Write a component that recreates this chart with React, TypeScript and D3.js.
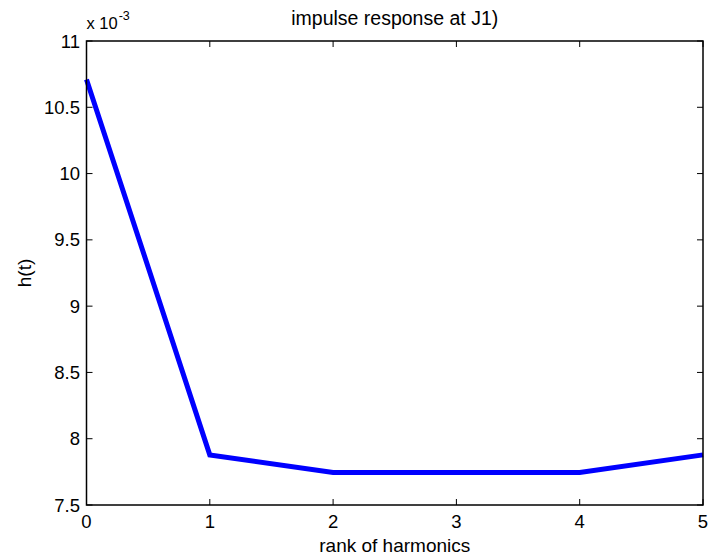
import React from "react";
import * as d3 from "d3";

// harmonics rank and impulse response h(t), in units of 1e-3
const ranks = [0, 1, 2, 3, 4, 5];
const hValues = [10.71, 7.878, 7.745, 7.745, 7.745, 7.878];
const xTicks = [0, 1, 2, 3, 4, 5];
const yTicks = [7.5, 8, 8.5, 9, 9.5, 10, 10.5, 11];

const W = 708;
const H = 560;
const M = { top: 41, right: 5, bottom: 55, left: 86.5 };
const FONT = "'Liberation Sans', Arial, sans-serif";

const App: React.FC = () => {
    const iW = W - M.left - M.right;
    const iH = H - M.top - M.bottom;

    const x = d3.scaleLinear().domain([0, 5]).range([0, iW]);
    const y = d3.scaleLinear().domain([7.5, 11]).range([iH, 0]);

    const line = d3.line<number>()
        .x((_d, i) => x(ranks[i]))
        .y((d) => y(d));

    const tick = 6;

    return (
        <svg
            width={W}
            height={H}
            style={{ position: "absolute", left: 0, top: 0, background: "#fff" }}
            fontFamily={FONT}
        >
            <g transform={`translate(${M.left},${M.top})`}>
                {/* data line */}
                <path
                    d={line(hValues) ?? ""}
                    fill="none"
                    stroke="#0000ff"
                    strokeWidth={5}
                    strokeLinejoin="miter"
                />

                {/* frame */}
                <rect x={0} y={0} width={iW} height={iH} fill="none" stroke="#000" strokeWidth={1.5} />

                {/* x ticks */}
                {xTicks.map((t) => (
                    <g key={`x${t}`}>
                        <line x1={x(t)} x2={x(t)} y1={iH} y2={iH - tick} stroke="#000" />
                        <line x1={x(t)} x2={x(t)} y1={0} y2={tick} stroke="#000" />
                        <text x={x(t)} y={iH + 22.5} textAnchor="middle" fontSize={18.5} fill="#000">
                            {t}
                        </text>
                    </g>
                ))}

                {/* y ticks */}
                {yTicks.map((t) => (
                    <g key={`y${t}`}>
                        <line x1={0} x2={tick} y1={y(t)} y2={y(t)} stroke="#000" />
                        <line x1={iW} x2={iW - tick} y1={y(t)} y2={y(t)} stroke="#000" />
                        <text x={-6.5} y={y(t) + 6.5} textAnchor="end" fontSize={18.5} fill="#000">
                            {t}
                        </text>
                    </g>
                ))}

                {/* exponent */}
                <text x={0} y={-12} fontSize={16.5} fill="#000">
                    x 10
                    <tspan dx={1} dy={-9} fontSize={12.5}>-3</tspan>
                </text>

                {/* title */}
                <text x={iW / 2} y={-16} textAnchor="middle" fontSize={19.5} fill="#000">
                    impulse response at J1)
                </text>

                {/* x label */}
                <text x={iW / 2} y={iH + 47} textAnchor="middle" fontSize={19} fill="#000">
                    rank of harmonics
                </text>
            </g>

            {/* y label */}
            <text
                transform={`translate(31,${M.top + iH / 2}) rotate(-90)`}
                textAnchor="middle"
                fontSize={19}
                fill="#000"
            >
                h(t)
            </text>
        </svg>
    );
};

export default App;
